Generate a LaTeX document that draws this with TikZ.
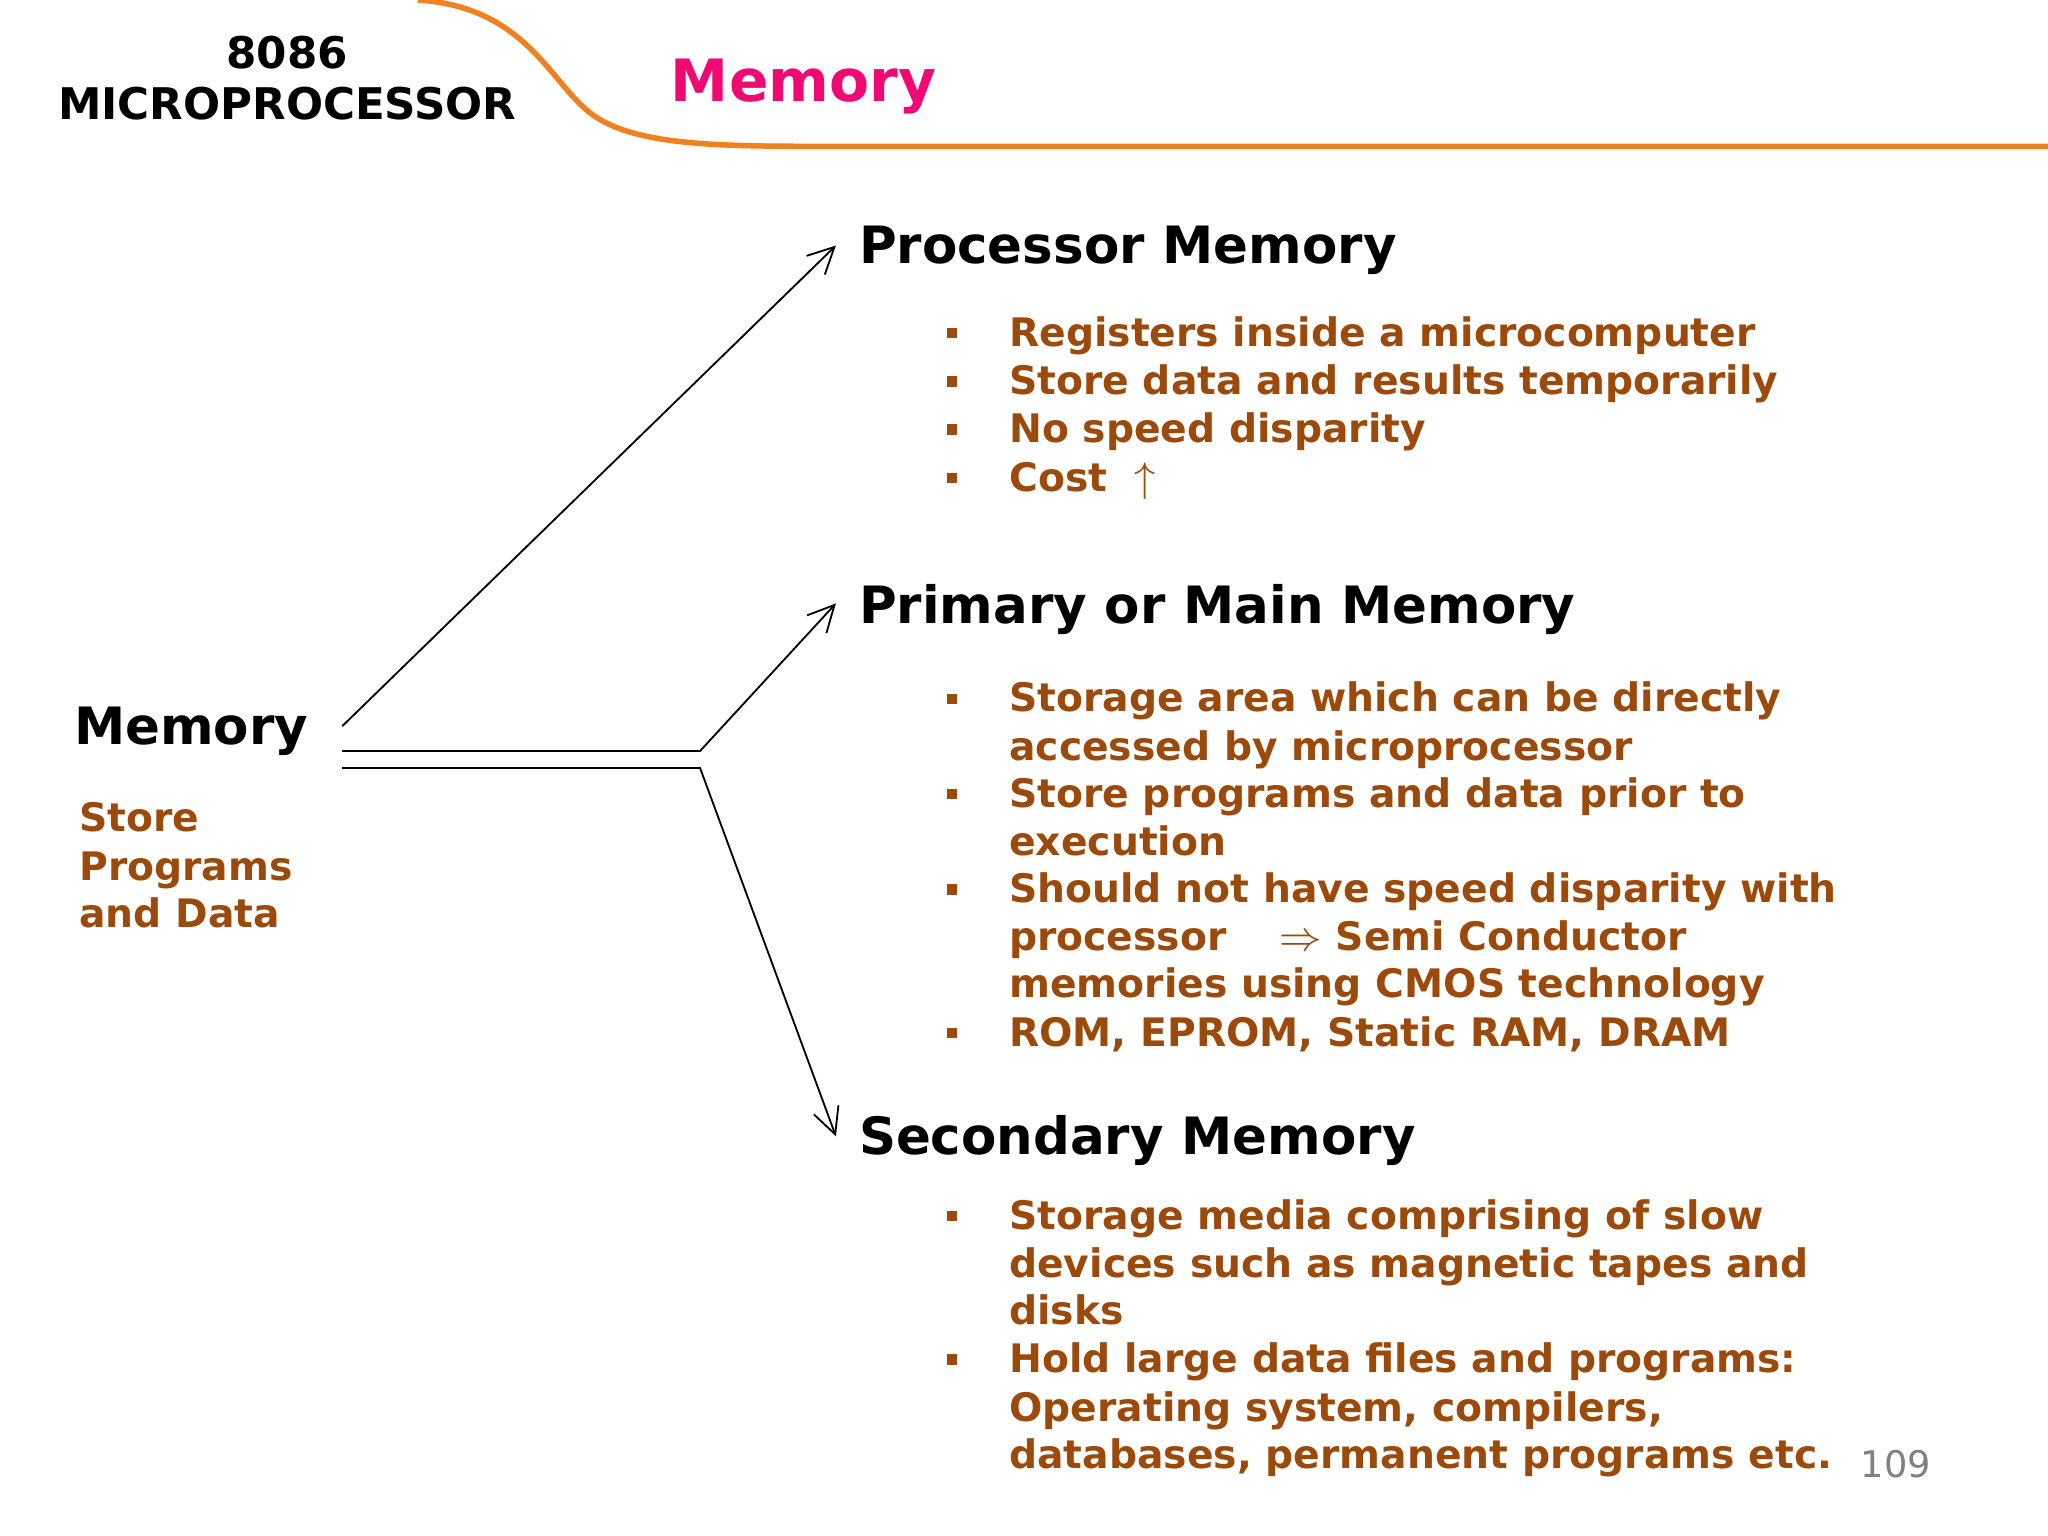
\documentclass[tikz,border=0pt]{standalone}
\usepackage{fontspec}
\setmainfont{DejaVu Sans}
\usetikzlibrary{arrows.meta}
\begin{document}
\begin{tikzpicture}[x=0.01cm,y=-0.01cm,
 head/.style={anchor=base west,font=\bfseries\fontsize{11.2}{13}\selectfont,inner sep=0},
 item/.style={anchor=base west,font=\bfseries\fontsize{8.55}{10.4}\selectfont,text=brn,inner sep=0},
 bul/.style={fill=brn,minimum size=0.08cm,inner sep=0},
 arr/.style={-{Straight Barb[length=0.2cm,width=0.2cm]}}]
\definecolor{brn}{HTML}{9C4A0C}
\definecolor{pink}{HTML}{EE0A72}
\definecolor{org}{HTML}{F08020}
\useasboundingbox (0,0) rectangle (1568,1176);
\draw[org,line width=1.2pt] (320,0) .. controls (400,5) and (420,60) .. (450,85) .. controls (480,110) and (540,112) .. (620,112) -- (1568,112);
\node[font=\bfseries\fontsize{9.5}{11}\selectfont,align=center] (t) at (220,60) {8086\\MICROPROCESSOR};
\node[head,text=pink,font=\bfseries\fontsize{12.7}{15}\selectfont] (m) at (513,78) {Memory};
\node[head] (mem) at (56,570) {Memory};
\node[item] (sp1) at (60,637) {Store};
\node[item] (sp2) at (60,674) {Programs};
\node[item] (sp3) at (60,710) {and Data};
\node[head] (pm) at (657,202) {Processor Memory};
\node[head] (mm) at (657,477) {Primary or Main Memory};
\node[head] (sm) at (657,884) {Secondary Memory};
\coordinate (s1) at (262,556);\coordinate (s2) at (262,575);\coordinate (s3) at (262,588);
\coordinate (k2) at (536,575);\coordinate (k3) at (536,588);
\coordinate (e1) at (640,188);\coordinate (e2) at (640,462);\coordinate (e3) at (640,870);
\draw[arr] (s1) -- (e1);
\draw[arr] (s2) -- (k2) -- (e2);
\draw[arr] (s3) -- (k3) -- (e3);
\foreach \y in {265,302,339,376,545,618,691,801,941,1051}
 \node[bul] at (729,\y-10) {};
\foreach \y/\t in {265/Registers inside a microcomputer,302/Store data and results temporarily,339/No speed disparity,376/Cost \ $\uparrow$,
 545/Storage area which can be directly,582/accessed by microprocessor,618/Store programs and data prior to,655/execution,
 691/Should not have speed disparity with,728/processor \quad$\Rightarrow$ Semi Conductor,764/memories using CMOS technology,801/{ROM, EPROM, Static RAM, DRAM},
 941/Storage media comprising of slow,978/devices such as magnetic tapes and,1014/disks,
 1051/Hold large data files and programs:,1088/{Operating system, compilers,},1124/{databases, permanent programs etc.}}
 \node[item] at (772,\y) {\t};
\node[anchor=base west,text=gray,font=\fontsize{8}{10}\selectfont,inner sep=0] (pg) at (1424,1131) {109};
\end{tikzpicture}
\end{document}
